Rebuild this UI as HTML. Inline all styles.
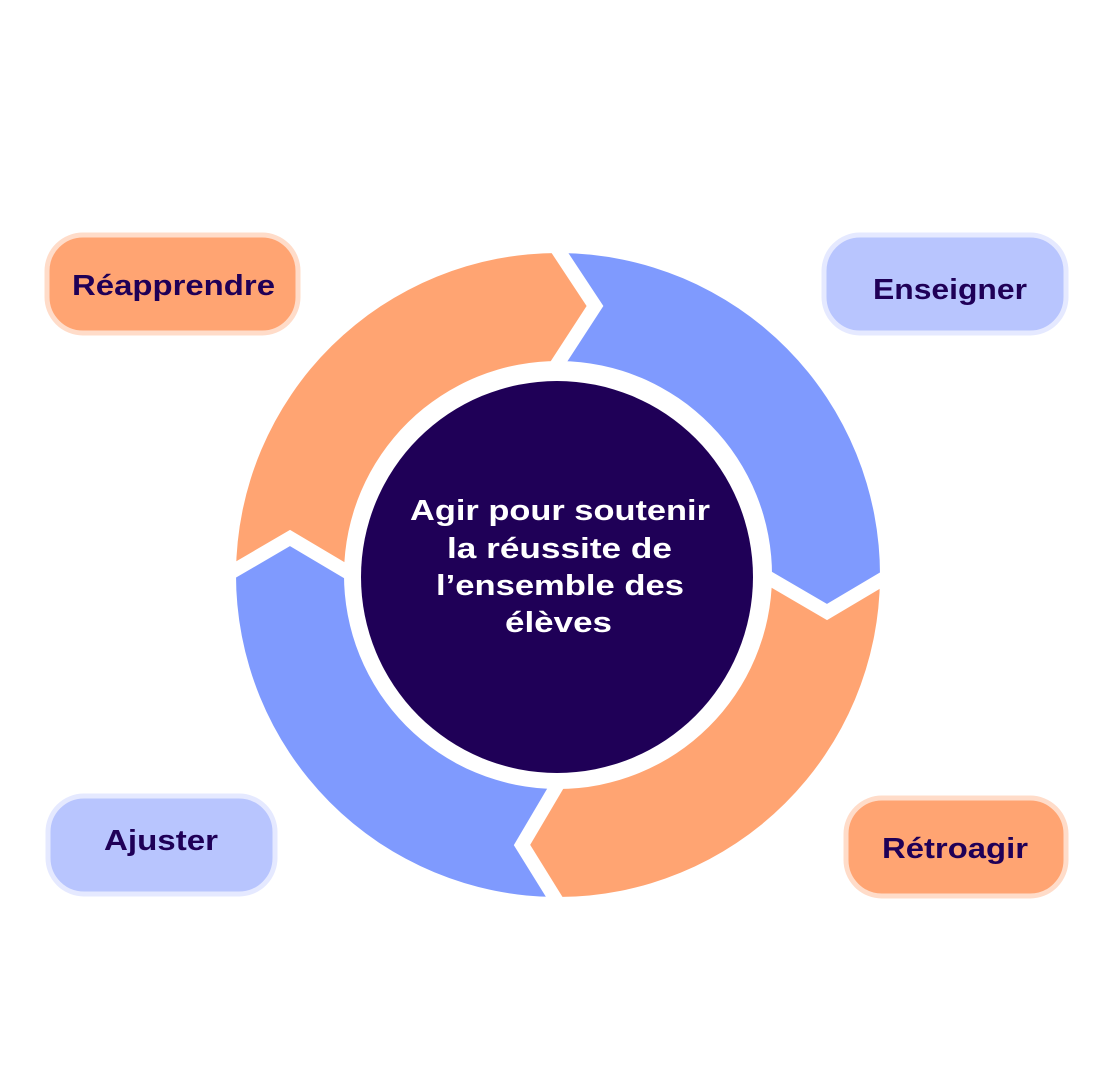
<!DOCTYPE html>
<html><head><meta charset="utf-8"><style>
html,body{margin:0;padding:0;background:#fff;}
body{width:1117px;height:1080px;overflow:hidden;}
</style></head><body>
<svg width="1117" height="1080" viewBox="0 0 1117 1080" xmlns="http://www.w3.org/2000/svg" font-family="Liberation Sans, sans-serif" font-weight="bold">
<rect width="1117" height="1080" fill="#fff"/>
<path d="M236,573 A322,322 0 0 1 560,253 L595,306 L560,361 A214,214 0 0 0 344,573 L290,538 Z" fill="#FFA472"/>
<path d="M560,253 A322,322 0 0 1 880,577 L827,612 L772,577 A214,214 0 0 0 560,361 L595,306 Z" fill="#7F9AFE"/>
<path d="M880,577 A322,322 0 0 1 558,897 L522,845 L558,789 A214,214 0 0 0 772,577 L827,612 Z" fill="#FFA472"/>
<path d="M558,897 A322,322 0 0 1 236,573 L290,538 L344,573 A214,214 0 0 0 558,789 L522,845 Z" fill="#7F9AFE"/>
<g fill="none" stroke="#fff" stroke-width="14" stroke-linejoin="miter">
<polyline points="556,247 595,306 556,366"/>
<polyline points="886,577 827,612 767,577"/>
<polyline points="558,903 522,845 558,784"/>
<polyline points="230,573 290,538 349,573"/>
</g>
<circle cx="557" cy="577" r="196" fill="#1F0057"/>
<g fill="#fff" font-size="29" lengthAdjust="spacingAndGlyphs">
<text x="410" y="520" textLength="300" lengthAdjust="spacingAndGlyphs">Agir pour soutenir</text>
<text x="447" y="558" textLength="225" lengthAdjust="spacingAndGlyphs">la réussite de</text>
<text x="436" y="595" textLength="248" lengthAdjust="spacingAndGlyphs">l’ensemble des</text>
<text x="505" y="632" textLength="107" lengthAdjust="spacingAndGlyphs">élèves</text>
</g>
<rect x="47" y="235" width="251" height="98" rx="36" fill="#FFA472" stroke="#FFDCC9" stroke-width="5"/>
<rect x="824" y="235" width="242" height="98" rx="36" fill="#B8C5FE" stroke="#E5E9FF" stroke-width="5"/>
<rect x="48" y="796" width="227" height="98" rx="36" fill="#B8C5FE" stroke="#E5E9FF" stroke-width="5"/>
<rect x="846" y="798" width="220" height="98" rx="36" fill="#FFA472" stroke="#FFDCC9" stroke-width="5"/>
<g fill="#1F0057" font-size="29">
<text x="72" y="295" textLength="203" lengthAdjust="spacingAndGlyphs">Réapprendre</text>
<text x="873" y="299" textLength="154" lengthAdjust="spacingAndGlyphs">Enseigner</text>
<text x="104" y="850" textLength="114" lengthAdjust="spacingAndGlyphs">Ajuster</text>
<text x="882" y="858" textLength="146" lengthAdjust="spacingAndGlyphs">Rétroagir</text>
</g>
</svg>
</body></html>
